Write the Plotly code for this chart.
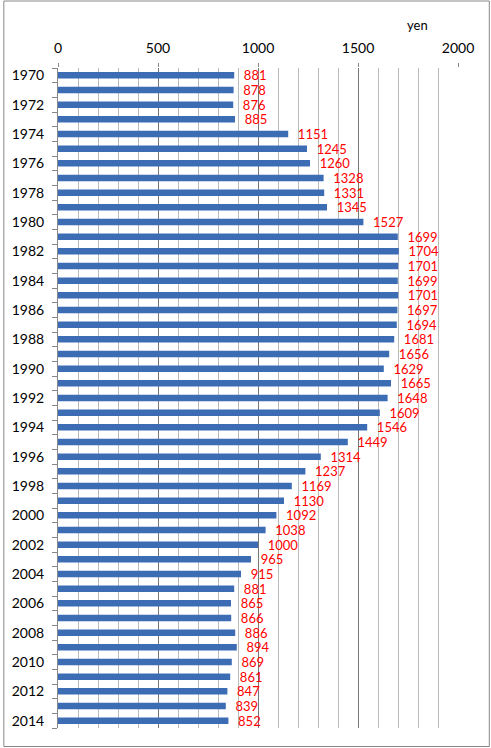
import plotly.graph_objects as go

years = list(range(1970, 2015))
prices = [881, 878, 876, 885, 1151, 1245, 1260, 1328, 1331, 1345,
          1527, 1699, 1704, 1701, 1699, 1701, 1697, 1694, 1681, 1656,
          1629, 1665, 1648, 1609, 1546, 1449, 1314, 1237, 1169, 1130,
          1092, 1038, 1000, 965, 915, 881, 865, 866, 886, 894,
          869, 861, 847, 839, 852]
year_labels = [str(y) if y % 2 == 0 else "" for y in years]
x_ticks = [0, 500, 1000, 1500, 2000]

W, H = 491, 748
ML, MR, MT, MB = 55.5, 33, 68, 20
pw = W - ML - MR
ph = H - MT - MB

fig = go.Figure(go.Bar(
    x=prices,
    y=[str(y) for y in years],
    orientation="h",
    marker=dict(color="#3b6cb4", line=dict(width=0)),
    width=0.44,
    text=prices,
    texttemplate="  %{x}",
    textposition="outside",
    constraintext="none",
    cliponaxis=False,
    textfont=dict(color="#ff0000", size=13, family="Lato"),
))

fig.update_layout(
    width=W, height=H,
    margin=dict(l=ML, r=MR, t=MT, b=MB),
    paper_bgcolor="white",
    plot_bgcolor="white",
    showlegend=False,
    font=dict(family="Lato", size=14, color="#000"),
    xaxis=dict(
        side="top",
        range=[0, 2000],
        tickvals=x_ticks,
        ticks="outside", ticklen=4, tickcolor="#888",
        showgrid=True, gridcolor="#777", gridwidth=1,
        minor=dict(dtick=100, showgrid=True, gridcolor="#bbb", gridwidth=1),
        showline=False, zeroline=False,
        ticklabelstandoff=4,
    ),
    yaxis=dict(
        type="category",
        autorange="reversed",
        tickvals=[str(y) for y in years],
        ticktext=year_labels,
        tickson="boundaries",
        ticks="outside", ticklen=5, tickcolor="#888",
        showline=True, linecolor="#888", linewidth=1,
        showgrid=False, zeroline=False,
        ticklabelstandoff=10,
    ),
    annotations=[dict(
        text="yen", xref="paper", yref="paper",
        x=(417 - ML) / pw, y=(H - MB - 25) / ph,
        xanchor="center", yanchor="middle",
        showarrow=False, font=dict(size=13, family="Lato"),
    )],
    # grey frame round the whole picture
    shapes=[dict(
        type="rect", xref="paper", yref="paper",
        x0=(1 - ML) / pw, x1=(W - 1.5 - ML) / pw,
        y0=-(MB - 1.5) / ph, y1=(H - MB - 1) / ph,
        line=dict(color="#888", width=1),
    )],
)

fig.write_html("out.html", config={"displayModeBar": False},
               post_script="document.body.style.margin='0';")
